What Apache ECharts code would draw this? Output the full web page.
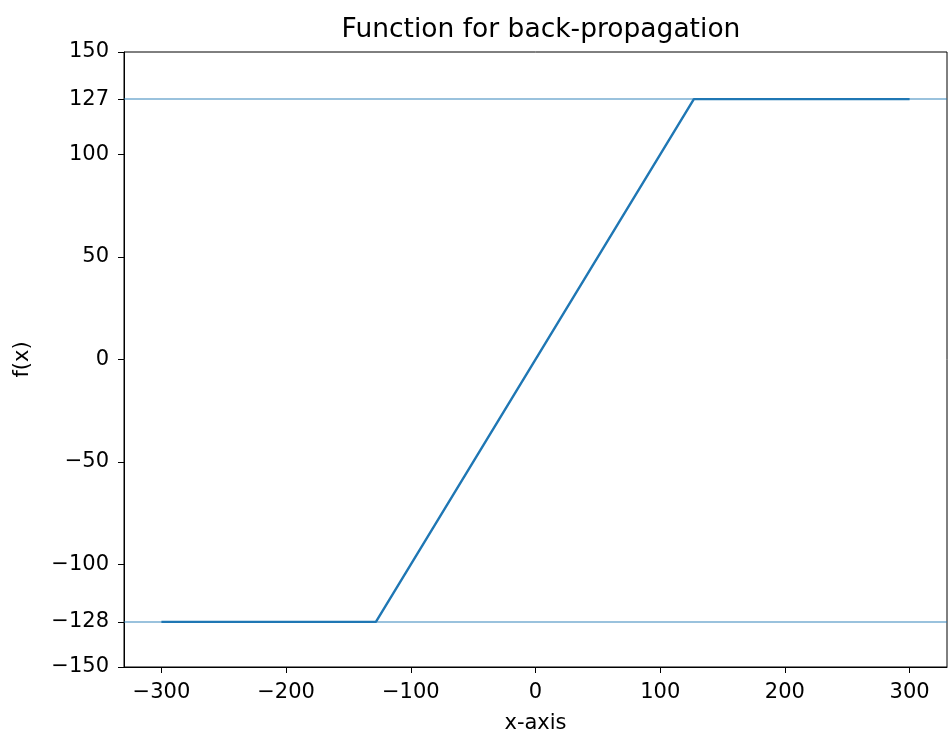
<!DOCTYPE html>
<html>
<head>
<meta charset="utf-8">
<script src="https://cdn.jsdelivr.net/npm/echarts@6/dist/echarts.min.js"></script>
<style>
  html, body { margin: 0; padding: 0; background: #fff; }
  #main { width: 949px; height: 738px; }
</style>
</head>
<body>
<div id="main"></div>
<script>
// clipped linear function, breakpoints only
const xValues = [-300, -128, 127, 300]
const yValues = [-128, -128, 127, 127]
const xTicks = [-300, -200, -100, 0, 100, 200, 300]
const yTicks = [-150, -128, -100, -50, 0, 50, 100, 127, 150]
const clipLines = [127, -128]

const font = 'DejaVu Sans'
const minus = v => String(v).replace('-', '\u2212')

const chart = echarts.init(document.getElementById('main'))

chart.setOption({
  animation: false,
  title: {
    text: 'Function for back-propagation',
    left: 536,
    textAlign: 'center',
    top: 12,
    textStyle: { fontFamily: font, fontSize: 26.5, fontWeight: 'normal', color: '#000' }
  },
  grid: {
    left: 124,
    right: 2,
    top: 52,
    bottom: 71,
    outerBoundsMode: 'none',
    containLabel: false,
    show: true,
    borderColor: '#000',
    borderWidth: 1
  },
  xAxis: {
    type: 'value',
    min: -330,
    max: 330,
    name: 'x-axis',
    nameLocation: 'middle',
    nameGap: 46,
    nameTextStyle: { fontFamily: font, fontSize: 21, color: '#000' },
    splitLine: { show: false },
    axisLine: { show: true, onZero: false, lineStyle: { color: '#000' } },
    axisTick: { show: true, inside: false, length: 6, customValues: xTicks, lineStyle: { color: '#000' } },
    axisLabel: {
      customValues: xTicks,
      formatter: minus,
      fontFamily: font, fontSize: 21, color: '#000', margin: 15
    }
  },
  yAxis: {
    type: 'value',
    min: -150,
    max: 150,
    name: 'f(x)',
    nameLocation: 'middle',
    nameRotate: 90,
    nameGap: 91,
    nameTextStyle: { fontFamily: font, fontSize: 21, color: '#000' },
    splitLine: { show: false },
    axisLine: { show: true, onZero: false, lineStyle: { color: '#000' } },
    axisTick: { show: true, inside: false, length: 6, customValues: yTicks, lineStyle: { color: '#000' } },
    axisLabel: {
      customValues: yTicks,
      formatter: minus,
      fontFamily: font, fontSize: 21, color: '#000', margin: 15
    }
  },
  series: [{
    type: 'line',
    data: xValues.map((x, i) => [x, yValues[i]]),
    showSymbol: false,
    lineStyle: { color: '#1f77b4', width: 2.4 },
    markLine: {
      silent: true,
      symbol: 'none',
      label: { show: false },
      lineStyle: { color: 'rgba(31,119,180,0.45)', type: 'solid', width: 2.2 },
      data: clipLines.map(v => [
        { coord: [-330, v] },
        { coord: [330, v] }
      ])
    }
  }]
})
</script>
</body>
</html>
